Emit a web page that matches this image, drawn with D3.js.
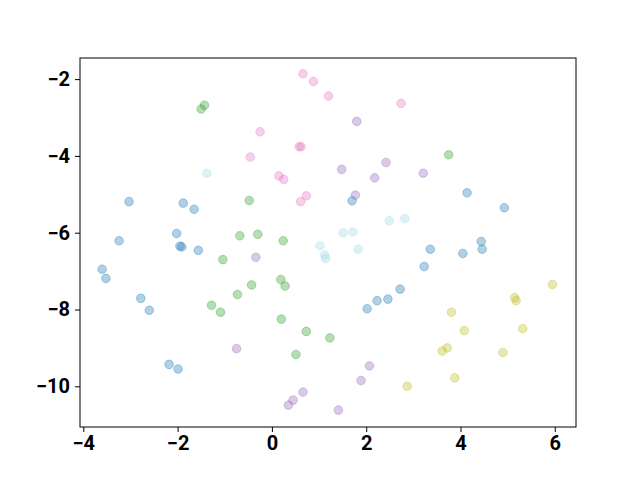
<!DOCTYPE html>
<html>
<head>
<meta charset="utf-8">
<script src="https://cdnjs.cloudflare.com/ajax/libs/d3/7.8.5/d3.min.js"></script>
<style>
  body { margin: 0; background: #fff; }
  .tick text { font-family: Roboto, sans-serif; font-weight: bold; font-size: 20px; }
</style>
</head>
<body>
<div id="chart"></div>
<script>
// cluster points
var blueX = [-3.03, -1.88, -1.65, -2.02, -3.24, -1.95, -1.91, -1.56, -3.60, -3.52, -2.78, -2.60, -2.18, -1.99,
	1.70, 2.02, 2.23, 2.46, 2.72, 3.23, 3.36, 4.05, 4.14, 4.44, 4.46, 4.93];
var blueY = [-5.19, -5.23, -5.39, -6.02, -6.21, -6.35, -6.37, -6.46, -6.95, -7.19, -7.71, -8.02, -9.43, -9.55,
	-5.17, -7.98, -7.77, -7.73, -7.47, -6.88, -6.43, -6.54, -4.96, -6.23, -6.43, -5.35];

var greenX = [-1.50, -1.43, -0.48, -0.68, -0.30, 0.24, -1.04, -0.43, -0.73, -1.28, -1.09, 0.19, 0.28, 0.20, 0.73, 0.51, 1.23, 3.75];
var greenY = [-2.78, -2.68, -5.16, -6.08, -6.04, -6.21, -6.70, -7.36, -7.61, -7.89, -8.07, -7.22, -7.39, -8.25, -8.57, -9.17, -8.74, -3.97];

var purpleX = [-0.34, -0.75, 0.66, 0.45, 0.35, 2.07, 1.89, 1.41, 1.80, 1.48, 2.42, 2.18, 3.21, 1.77];
var purpleY = [-6.64, -9.02, -10.15, -10.36, -10.49, -9.47, -9.85, -10.62, -3.10, -4.35, -4.17, -4.57, -4.45, -5.02];

var pinkX = [0.66, 0.88, 1.20, -0.25, 0.58, 0.62, -0.46, 0.15, 0.25, 0.73, 0.61, 2.74];
var pinkY = [-1.86, -2.06, -2.44, -3.37, -3.76, -3.76, -4.03, -4.52, -4.61, -5.04, -5.19, -2.63];

var oliveX = [5.95, 5.15, 5.18, 3.81, 4.08, 5.32, 3.72, 3.61, 4.90, 3.88, 2.87];
var oliveY = [-7.35, -7.69, -7.77, -8.07, -8.55, -8.50, -9.00, -9.08, -9.12, -9.78, -10.00];

var cyanX = [-1.38, 1.02, 2.49, 2.82, 1.51, 1.72, 1.83, 1.12, 1.14];
var cyanY = [-4.45, -6.34, -5.69, -5.63, -6.00, -5.98, -6.43, -6.58, -6.67];

var xTicks = [-4, -2, 0, 2, 4, 6];
var yTicks = [-10, -8, -6, -4, -2];

var groups = [
	{ xs: blueX, ys: blueY, color: '#1f77b4' },
	{ xs: greenX, ys: greenY, color: '#2ca02c' },
	{ xs: purpleX, ys: purpleY, color: '#9467bd' },
	{ xs: pinkX, ys: pinkY, color: '#e377c2' },
	{ xs: oliveX, ys: oliveY, color: '#bcbd22' },
	{ xs: cyanX, ys: cyanY, color: '#9edae5' }
];

var w = 640,
	h = 480,
	padL = 80,
	padR = 576,
	padT = 58,
	padB = 427;

var xScale = d3.scaleLinear()
	.domain([-4.07, 6.45])
	.range([padL, padR]);

var yScale = d3.scaleLinear()
	.domain([-11.06, -1.45])
	.range([padB, padT]);

var svg = d3.select('#chart')
	.append('svg')
	.attr('width', w)
	.attr('height', h);

groups.forEach(function(g) {
	var pts = g.xs.map(function(x, i) { return [x, g.ys[i]]; });
	svg.append('g')
		.selectAll('circle')
		.data(pts)
		.enter()
		.append('circle')
		.attr('cx', function(d) { return xScale(d[0]); })
		.attr('cy', function(d) { return yScale(d[1]); })
		.attr('r', 4.3)
		.attr('fill', g.color)
		.attr('fill-opacity', 0.35)
		.attr('stroke', g.color)
		.attr('stroke-opacity', 0.35)
		.attr('stroke-width', 1);
});

svg.append('g')
	.attr('transform', 'translate(0,' + padB + ')')
	.call(d3.axisBottom(xScale).tickValues(xTicks).tickSize(5).tickPadding(4).tickFormat(d3.format('d')))
	.call(function(a) { a.select('.domain').remove(); });

svg.append('g')
	.attr('transform', 'translate(' + padL + ',0)')
	.call(d3.axisLeft(yScale).tickValues(yTicks).tickSize(5).tickPadding(5).tickFormat(d3.format('d')))
	.call(function(a) { a.select('.domain').remove(); });

svg.selectAll('.tick line').attr('stroke', '#000').attr('stroke-width', 1);

svg.append('rect')
	.attr('x', padL)
	.attr('y', padT)
	.attr('width', padR - padL)
	.attr('height', padB - padT)
	.attr('fill', 'none')
	.attr('stroke', '#000')
	.attr('stroke-width', 1);
</script>
</body>
</html>
